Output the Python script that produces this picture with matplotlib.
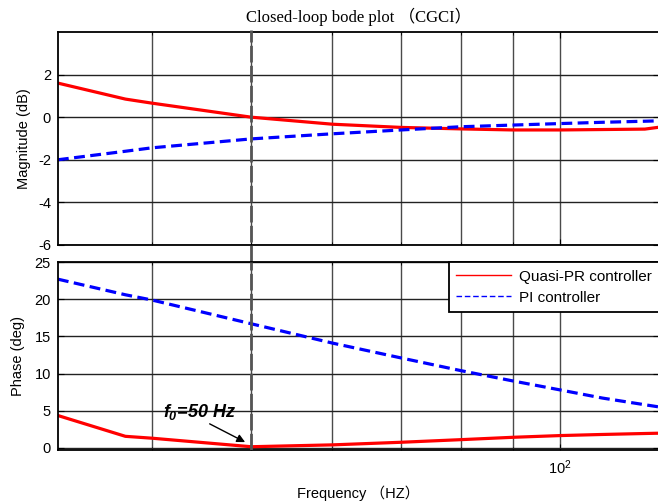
import numpy as np
import matplotlib
matplotlib.use('Agg')
import matplotlib.pyplot as plt
from matplotlib.lines import Line2D
from matplotlib.ticker import LogLocator, NullFormatter, FixedLocator

plt.rcParams['font.family'] = ['Liberation Sans', 'DejaVu Sans']
plt.rcParams['axes.unicode_minus'] = False
plt.rcParams['mathtext.fontset'] = 'custom'
plt.rcParams['mathtext.it'] = 'Liberation Sans:italic:bold'
plt.rcParams['mathtext.rm'] = 'Liberation Sans:italic:bold'

# frequency samples (Hz)
freq = [32.4, 37.7, 40, 50, 60, 70, 80, 90, 100, 110, 121, 125]

# magnitude (dB)
mag_pr = [1.6, 0.85, 0.66, 0.0, -0.33, -0.48, -0.55, -0.6, -0.6, -0.58, -0.56, -0.47]
mag_pi = [-2.0, -1.6, -1.44, -1.02, -0.78, -0.6, -0.45, -0.37, -0.3, -0.24, -0.19, -0.17]

# phase (deg)
ph_pr = [4.35, 1.55, 1.3, 0.15, 0.4, 0.75, 1.1, 1.42, 1.65, 1.8, 1.93, 1.97]
ph_pi = [22.7, 20.6, 19.9, 16.7, 14.1, 12.1, 10.4, 9.0, 7.8, 6.7, 5.8, 5.5]

f0 = 50
mag_ticks = [-6, -4, -2, 0, 2]
ph_ticks = [0, 5, 10, 15, 20, 25]

fig = plt.figure(figsize=(6.58, 5.04), dpi=100)
ax1 = fig.add_axes([0.088, 0.514, 0.914, 0.4225])
ax2 = fig.add_axes([0.088, 0.107, 0.914, 0.373])

for ax in (ax1, ax2):
    ax.set_xscale('log')
    ax.set_xlim(32.4, 125)
    ax.xaxis.set_major_locator(LogLocator(base=10))
    ax.xaxis.set_minor_locator(LogLocator(base=10, subs=np.arange(2, 10)))
    ax.xaxis.set_minor_formatter(NullFormatter())
    ax.grid(True, which='both', axis='x', color='#4a4a4a', lw=1.0)
    ax.grid(True, which='major', axis='y', color='#222222', lw=1.0)
    ax.tick_params(which='both', direction='in', top=True, right=True,
                   labelsize=10.5, length=4)
    ax.tick_params(which='minor', length=2)
    ax.tick_params(axis='x', pad=6)
    ax.tick_params(axis='y', pad=5)
    for s in ax.spines.values():
        s.set_linewidth(1.3)
    ax.set_axisbelow(True)

ax1.plot(freq, mag_pr, color='#ff0000', lw=2.3)
ax1.plot(freq, mag_pi, color='#0000ff', lw=2.3, ls='--', dashes=(3.4, 1.7))
ax1.set_ylim(-6, 4)
ax1.yaxis.set_major_locator(FixedLocator(mag_ticks))
ax1.tick_params(labelbottom=False)
ax1.set_ylabel('Magnitude (dB)', fontsize=10.5, labelpad=5)
ax1.set_title('Closed-loop bode plot （CGCI）', fontsize=12,
              family=['Liberation Serif', 'Noto Sans CJK SC'], pad=7)

ax2.plot(freq, ph_pr, color='#ff0000', lw=2.3)
ax2.plot(freq, ph_pi, color='#0000ff', lw=2.3, ls='--', dashes=(3.4, 1.7))
ax2.set_ylim(-0.3, 25)
ax2.yaxis.set_major_locator(FixedLocator(ph_ticks))
ax2.set_ylabel('Phase (deg)', fontsize=10.5, labelpad=7)
ax2.set_xlabel('Frequency （HZ）', fontsize=10.5,
               family=['Liberation Sans', 'Noto Sans CJK SC'], labelpad=6)

# resonant frequency marker spanning both panels
gap = (0.514 - 0.480) / 0.4225
ax1.axvline(f0, ymin=-gap, ymax=1.01, color='#555555', lw=2.0,
            dashes=(6, 1.2), clip_on=False, zorder=3)
ax2.axvline(f0, color='#555555', lw=2.0, dashes=(6, 1.2), zorder=3)

ax2.annotate('', xy=(49.6, 0.6), xytext=(45.3, 3.4),
             arrowprops=dict(arrowstyle='-|>', color='black', lw=1.0,
                             mutation_scale=12))
ax2.text(41.0, 4.8, r'$f_{\mathrm{0}}$=50 Hz', fontsize=13,
         fontweight='bold', style='italic', ha='left', va='center')

handles = [Line2D([], [], color='#ff0000', lw=1.0),
           Line2D([], [], color='#0000ff', lw=1.0, ls='--', dashes=(4, 2))]
leg = ax2.legend(handles, ['Quasi-PR controller', 'PI controller'],
                 loc='upper right', fontsize=11, handlelength=3.6,
                 handletextpad=0.5, fancybox=False, framealpha=1,
                 edgecolor='black', borderaxespad=0, borderpad=0.5,
                 labelspacing=0.45)
leg.get_frame().set_linewidth(1.3)

fig.savefig('out.png', dpi=100)
